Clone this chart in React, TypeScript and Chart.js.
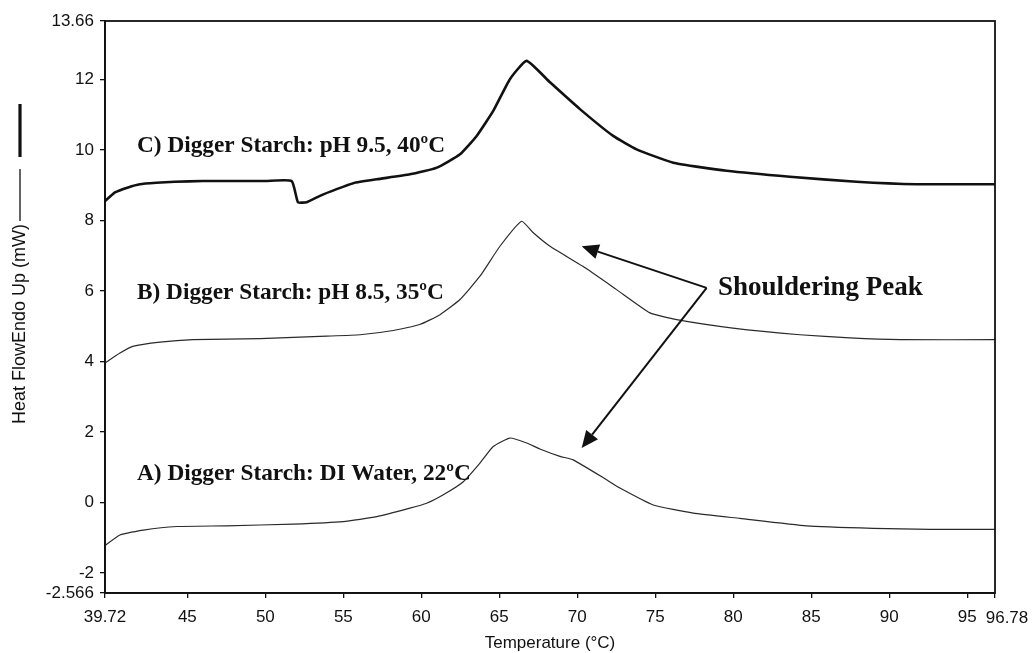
import React, { useEffect, useRef } from "react";
import { Chart, registerables } from "chart.js";

Chart.register(...registerables);

// ---- Data ----
const xTickValues = [39.72, 45, 50, 55, 60, 65, 70, 75, 80, 85, 90, 95, 96.78];
const yTickValues = [-2.566, -2, 0, 2, 4, 6, 8, 10, 12, 13.66];

const cTemp = [39.72, 40.36, 41.2, 41.96, 43.0, 44.2, 46, 48, 50, 51.69, 52.09, 52.65, 53.5, 54.57, 55.64, 57.14, 59.27, 61.0, 62.48, 63.55, 64.61, 65.68, 66.75, 68.25, 70.17, 72.3, 73.8, 76.15, 79.57, 83.63, 87.9, 91.75, 96.78];
const cVal = [8.55, 8.8, 8.94, 9.03, 9.07, 9.1, 9.12, 9.12, 9.12, 9.12, 8.52, 8.52, 8.7, 8.89, 9.06, 9.17, 9.31, 9.5, 9.88, 10.4, 11.11, 12.01, 12.53, 11.92, 11.16, 10.4, 10.02, 9.64, 9.41, 9.24, 9.1, 9.03, 9.03];

const bTemp = [39.72, 40.68, 41.5, 43.25, 45.36, 49.66, 53.93, 56.07, 58.2, 59.9, 61.2, 62.48, 63.76, 65.04, 66.43, 67.16, 68.25, 70.36, 72.52, 74.66, 76.37, 79.98, 84.27, 87.48, 90.68, 96.78];
const bVal = [3.96, 4.24, 4.43, 4.55, 4.62, 4.65, 4.72, 4.76, 4.88, 5.05, 5.33, 5.76, 6.42, 7.27, 7.98, 7.66, 7.27, 6.7, 6.04, 5.38, 5.19, 4.95, 4.76, 4.67, 4.62, 4.62];

const aTemp = [39.72, 40.68, 42.18, 44.32, 47.52, 51.8, 54.99, 57.14, 59.27, 60.34, 61.41, 62.69, 63.76, 64.61, 65.68, 66.75, 67.6, 68.89, 69.74, 71.9, 72.73, 74.87, 77.43, 80.43, 84.7, 88.97, 92.6, 96.78];
const aVal = [-1.22, -0.92, -0.78, -0.68, -0.66, -0.61, -0.54, -0.4, -0.16, -0.02, 0.22, 0.59, 1.12, 1.59, 1.83, 1.69, 1.52, 1.31, 1.21, 0.64, 0.41, -0.07, -0.3, -0.45, -0.66, -0.73, -0.76, -0.76];

const seriesLabels = [
  "C) Digger Starch: pH 9.5, 40ºC",
  "B) Digger Starch: pH 8.5, 35ºC",
  "A) Digger Starch: DI Water, 22ºC",
];
const seriesLabelAnchors = [
  [41.77, 9.94],
  [41.77, 5.78],
  [41.77, 0.64],
];
const peakLabel = "Shouldering Peak";
const peakLabelAnchor = [79.02, 5.88];
const arrowStart = [78.29, 6.09];
const arrowEnds = [
  [70.28, 7.27],
  [70.28, 1.545],
];

const xTitle = "Temperature (°C)";
const yTitle = "Heat FlowEndo Up (mW)";

const lastX = xTickValues[xTickValues.length - 1];

function toPoints(xs: number[], ys: number[]) {
  return xs.map((x, i) => ({ x, y: ys[i] }));
}

function fmt(v: number) {
  return String(v);
}

const SANS = "'Liberation Sans', Arial, sans-serif";
const SERIF = "'Liberation Serif', 'Times New Roman', serif";
const X_TICK_PAD = 9;

const decorPlugin = {
  id: "decor",
  afterDraw(chart: any) {
    const ctx = chart.ctx;
    const { left, right, top, bottom } = chart.chartArea;
    const xs = chart.scales.x;
    const ys = chart.scales.y;
    ctx.save();
    // frame
    ctx.strokeStyle = "#111";
    ctx.lineWidth = 1.8;
    ctx.strokeRect(left, top, right - left, bottom - top);

    // last x tick label, nudged right like the original
    ctx.fillStyle = "#111";
    ctx.font = `17px ${SANS}`;
    ctx.textAlign = "center";
    ctx.textBaseline = "top";
    ctx.fillText(fmt(lastX), xs.getPixelForValue(lastX) + 12, bottom + 5 + X_TICK_PAD + 3);

    // y title with line samples
    ctx.font = `18px ${SANS}`;
    const tw = ctx.measureText(yTitle).width;
    const cx = 20;
    const cy = 324;
    ctx.save();
    ctx.translate(cx, cy);
    ctx.rotate(-Math.PI / 2);
    ctx.textAlign = "center";
    ctx.textBaseline = "middle";
    ctx.fillText(yTitle, 0, 0);
    ctx.restore();
    const titleTop = cy - tw / 2;
    ctx.strokeStyle = "#111";
    ctx.lineWidth = 1.3;
    ctx.beginPath();
    ctx.moveTo(cx, titleTop - 3);
    ctx.lineTo(cx, titleTop - 55);
    ctx.stroke();
    ctx.lineWidth = 3.2;
    ctx.beginPath();
    ctx.moveTo(cx, titleTop - 67);
    ctx.lineTo(cx, titleTop - 120);
    ctx.stroke();

    // series labels
    ctx.fillStyle = "#111";
    ctx.textAlign = "left";
    ctx.textBaseline = "alphabetic";
    ctx.font = `bold 23.3px ${SERIF}`;
    seriesLabels.forEach((t, i) => {
      const [ax, ay] = seriesLabelAnchors[i];
      ctx.fillText(t, xs.getPixelForValue(ax), ys.getPixelForValue(ay));
    });
    ctx.font = `bold 27px ${SERIF}`;
    ctx.fillText(peakLabel, xs.getPixelForValue(peakLabelAnchor[0]), ys.getPixelForValue(peakLabelAnchor[1]));

    // arrows
    const x0 = xs.getPixelForValue(arrowStart[0]);
    const y0 = ys.getPixelForValue(arrowStart[1]);
    arrowEnds.forEach(([ex, ey]) => {
      const x1 = xs.getPixelForValue(ex);
      const y1 = ys.getPixelForValue(ey);
      const ang = Math.atan2(y1 - y0, x1 - x0);
      const hl = 17;
      const hw = 7.5;
      const bx = x1 - hl * Math.cos(ang);
      const by = y1 - hl * Math.sin(ang);
      ctx.strokeStyle = "#111";
      ctx.lineWidth = 2;
      ctx.beginPath();
      ctx.moveTo(x0, y0);
      ctx.lineTo(bx, by);
      ctx.stroke();
      ctx.fillStyle = "#111";
      ctx.beginPath();
      ctx.moveTo(x1, y1);
      ctx.lineTo(bx + hw * Math.sin(ang), by - hw * Math.cos(ang));
      ctx.lineTo(bx - hw * Math.sin(ang), by + hw * Math.cos(ang));
      ctx.closePath();
      ctx.fill();
    });
    ctx.restore();
  },
};

export default function App() {
  const ref = useRef<HTMLCanvasElement | null>(null);
  useEffect(() => {
    if (!ref.current) return;
    const tickFont = { family: SANS, size: 17 };
    const chart = new Chart(ref.current, {
      type: "line",
      data: {
        datasets: [
          { label: "C", data: toPoints(cTemp, cVal), borderColor: "#111", borderWidth: 2.6, pointRadius: 0, tension: 0.15, fill: false },
          { label: "B", data: toPoints(bTemp, bVal), borderColor: "#2a2a2a", borderWidth: 1.2, pointRadius: 0, tension: 0.15, fill: false },
          { label: "A", data: toPoints(aTemp, aVal), borderColor: "#2a2a2a", borderWidth: 1.2, pointRadius: 0, tension: 0.15, fill: false },
        ],
      },
      options: {
        animation: false,
        responsive: true,
        maintainAspectRatio: false,
        layout: { padding: { top: 21, right: 40, left: 0, bottom: 0 } },
        plugins: { legend: { display: false }, tooltip: { enabled: false } },
        scales: {
          x: {
            type: "linear",
            min: 39.72,
            max: 96.78,
            afterBuildTicks: (s: any) => {
              s.ticks = xTickValues.map((v) => ({ value: v }));
            },
            afterFit: (s: any) => {
              s.height = 60;
            },
            ticks: {
              autoSkip: false,
              maxRotation: 0,
              font: tickFont,
              color: "#111",
              padding: X_TICK_PAD,
              callback: (v: any) => (v === lastX ? "" : fmt(v)),
            },
            grid: { drawOnChartArea: false, drawTicks: true, tickLength: 5, color: "#111", lineWidth: 1.3 },
            border: { display: true, color: "#111", width: 1.8 },
            title: { display: true, text: xTitle, color: "#111", font: { family: SANS, size: 17 }, padding: { top: 0, bottom: -1 } },
          },
          y: {
            type: "linear",
            min: -2.566,
            max: 13.66,
            afterBuildTicks: (s: any) => {
              s.ticks = yTickValues.map((v) => ({ value: v }));
            },
            afterFit: (s: any) => {
              s.width = 105;
            },
            ticks: { autoSkip: false, font: tickFont, color: "#111", padding: 6, callback: (v: any) => fmt(v) },
            grid: { drawOnChartArea: false, drawTicks: true, tickLength: 5, color: "#111", lineWidth: 1.3 },
            border: { display: true, color: "#111", width: 1.8 },
          },
        },
      },
      plugins: [decorPlugin],
    } as any);
    return () => chart.destroy();
  }, []);
  return (
    <div style={{ position: "absolute", left: 0, top: 0, width: 1035, height: 653, background: "#fff" }}>
      <canvas ref={ref} />
    </div>
  );
}
